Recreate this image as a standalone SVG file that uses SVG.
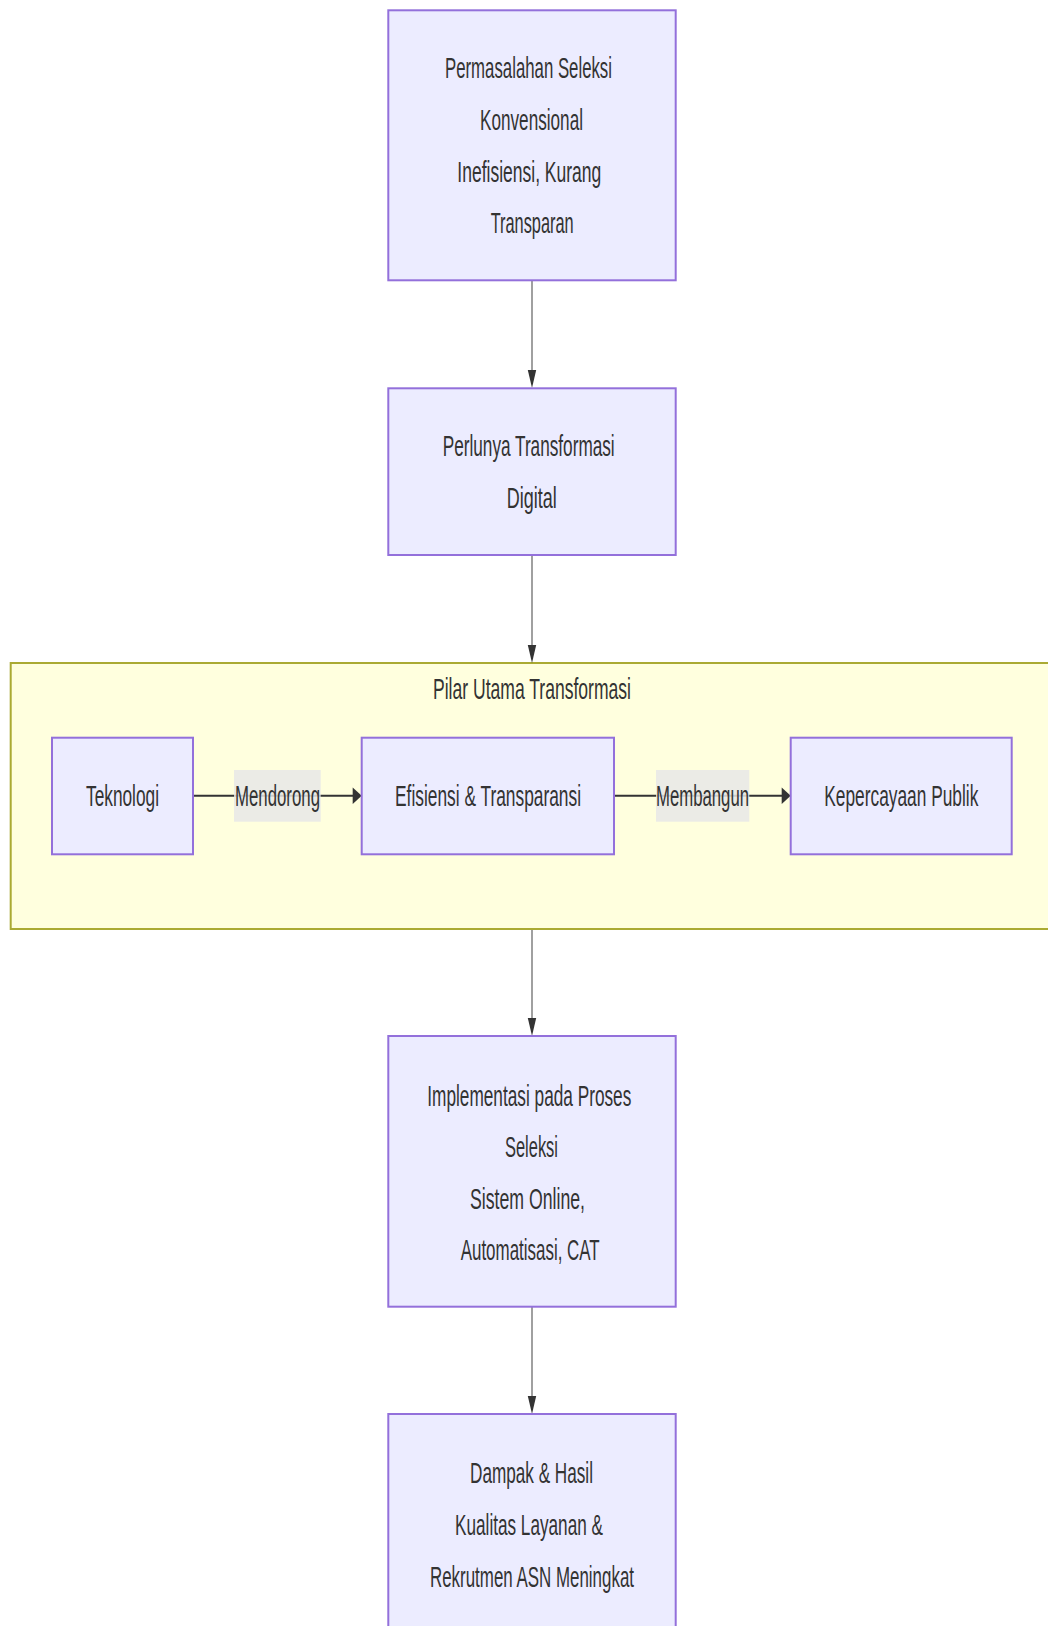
<svg xmlns="http://www.w3.org/2000/svg" width="1048" height="1626" viewBox="0 0 1048 1626">
<style>
.n{fill:#ECECFF;stroke:#9370DB;stroke-width:2}
.t{font-family:'Liberation Sans',Arial,sans-serif;font-size:30px;fill:#333}
.v{stroke:#A0A0A0;stroke-width:2;fill:none}
.h{stroke:#333;stroke-width:2;fill:none}
.ah{fill:#333}
.lb{fill:#E8E8E8;opacity:0.85}
</style>
<rect width="1048" height="1626" fill="#ffffff"/>
<g id="cluster">
<rect x="10.7" y="663" width="1050" height="266" fill="#FFFFDE" stroke="#AAAA33" stroke-width="2"/>
<text class="t" x="433" y="699" textLength="198" lengthAdjust="spacingAndGlyphs">Pilar Utama Transformasi</text>
</g>
<g id="connectors">
<line class="v" x1="532" y1="281" x2="532" y2="372"/>
<polygon class="ah" points="527.8,370 536.2,370 532,388"/>
<line class="v" x1="532" y1="556" x2="532" y2="647"/>
<polygon class="ah" points="527.8,645 536.2,645 532,663"/>
<line class="v" x1="532" y1="930" x2="532" y2="1020"/>
<polygon class="ah" points="527.8,1018 536.2,1018 532,1036"/>
<line class="v" x1="532" y1="1307" x2="532" y2="1398"/>
<polygon class="ah" points="527.8,1396 536.2,1396 532,1414"/>
<line class="h" x1="193" y1="795.7" x2="354" y2="795.7"/>
<polygon class="ah" points="352.7,787.4 352.7,804 361.7,795.7"/>
<line class="h" x1="614" y1="795.7" x2="782" y2="795.7"/>
<polygon class="ah" points="781.7,787.4 781.7,804 790.7,795.7"/>
<g id="label-mendorong">
<rect class="lb" x="234" y="770" width="86.7" height="51.7"/>
<text class="t" x="235" y="806" textLength="85" lengthAdjust="spacingAndGlyphs">Mendorong</text>
</g>
<g id="label-membangun">
<rect class="lb" x="656" y="770" width="93.3" height="51.7"/>
<text class="t" x="656" y="806" textLength="93" lengthAdjust="spacingAndGlyphs">Membangun</text>
</g>
</g>
<g id="nodeA">
<rect class="n" x="388.3" y="10.3" width="287.4" height="270"/>
<text class="t" x="445" y="78" textLength="167" lengthAdjust="spacingAndGlyphs">Permasalahan Seleksi</text>
<text class="t" x="480" y="130" textLength="103" lengthAdjust="spacingAndGlyphs">Konvensional</text>
<text class="t" x="457.3" y="181.5" textLength="144" lengthAdjust="spacingAndGlyphs">Inefisiensi, Kurang</text>
<text class="t" x="490.7" y="233" textLength="83" lengthAdjust="spacingAndGlyphs">Transparan</text>
</g>
<g id="nodeB">
<rect class="n" x="388.3" y="388.3" width="287.4" height="166.7"/>
<text class="t" x="442.7" y="456" textLength="172" lengthAdjust="spacingAndGlyphs">Perlunya Transformasi</text>
<text class="t" x="506.7" y="508" textLength="50" lengthAdjust="spacingAndGlyphs">Digital</text>
</g>
<g id="nodeTeknologi">
<rect class="n" x="52" y="737.7" width="141" height="116.6"/>
<text class="t" x="86" y="806" textLength="73" lengthAdjust="spacingAndGlyphs">Teknologi</text>
</g>
<g id="nodeEfisiensi">
<rect class="n" x="361.7" y="737.7" width="252.3" height="116.6"/>
<text class="t" x="395" y="806" textLength="186" lengthAdjust="spacingAndGlyphs">Efisiensi &amp; Transparansi</text>
</g>
<g id="nodeKepercayaan">
<rect class="n" x="790.7" y="737.7" width="221" height="116.6"/>
<text class="t" x="824.3" y="806" textLength="154" lengthAdjust="spacingAndGlyphs">Kepercayaan Publik</text>
</g>
<g id="nodeImplementasi">
<rect class="n" x="388.3" y="1036" width="287.4" height="270.7"/>
<text class="t" x="427.3" y="1106" textLength="204" lengthAdjust="spacingAndGlyphs">Implementasi pada Proses</text>
<text class="t" x="505" y="1157" textLength="53" lengthAdjust="spacingAndGlyphs">Seleksi</text>
<text class="t" x="470" y="1208.5" textLength="115" lengthAdjust="spacingAndGlyphs">Sistem Online,</text>
<text class="t" x="460.7" y="1260" textLength="139" lengthAdjust="spacingAndGlyphs">Automatisasi, CAT</text>
</g>
<g id="nodeDampak">
<rect class="n" x="388.3" y="1414" width="287.4" height="270"/>
<text class="t" x="470" y="1483" textLength="123" lengthAdjust="spacingAndGlyphs">Dampak &amp; Hasil</text>
<text class="t" x="455" y="1535" textLength="148" lengthAdjust="spacingAndGlyphs">Kualitas Layanan &amp;</text>
<text class="t" x="430" y="1587" textLength="204" lengthAdjust="spacingAndGlyphs">Rekrutmen ASN Meningkat</text>
</g>
</svg>
